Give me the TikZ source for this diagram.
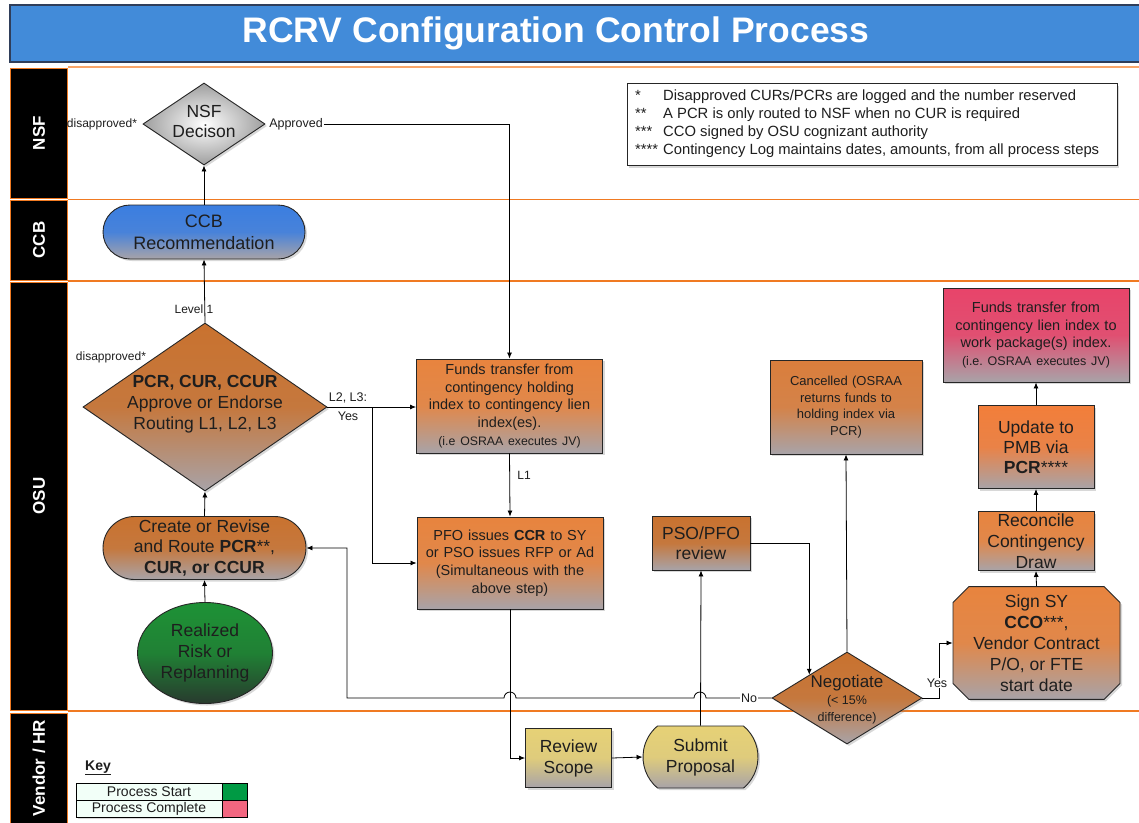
\documentclass[tikz,border=0pt]{standalone}
\usepackage{fontspec}
\setmainfont{Liberation Sans}
\usetikzlibrary{shapes.geometric,shapes.misc,arrows.meta,shadows}
\definecolor{txt}{HTML}{1E1E1E}
\definecolor{titleblue}{HTML}{428BD9}
\definecolor{titleedge}{HTML}{2F3E5A}
\definecolor{laneor}{HTML}{F07A22}
\definecolor{lanelight}{HTML}{F9A66A}
\definecolor{grayb}{HTML}{A8A3A8}
\definecolor{or1}{HTML}{E8843E}
\definecolor{or2}{HTML}{C9722F}
\definecolor{or3}{HTML}{F27E3A}
\definecolor{or4}{HTML}{DA7E3C}
\definecolor{pink1}{HTML}{E8446A}
\definecolor{blue1}{HTML}{3B7EE0}
\definecolor{yel1}{HTML}{E6D176}
\definecolor{grn1}{HTML}{1E9236}
\definecolor{grn2}{HTML}{283A2E}
\definecolor{keygreen}{HTML}{009A44}
\definecolor{keypink}{HTML}{F26680}
\definecolor{keymint}{HTML}{F2FFF8}
\newcommand\fz[2]{\fontsize{#1}{#2}\selectfont}
\frenchspacing
\begin{document}
\begin{tikzpicture}[x=1pt,y=-1pt,
  every node/.style={text=txt},
  shd/.style={drop shadow={shadow xshift=2pt,shadow yshift=-2pt,opacity=0.3}},
  box/.style={draw=black!85, line width=0.9pt, align=center, inner sep=0pt, shd, font=\fz{17.5}{21}},
  grad/.style={top color=#1, bottom color=grayb, middle color=#1!88!grayb},
  obox/.style={box, rectangle, grad=#1},
  pill/.style={box, rounded rectangle, grad=#1},
  dia/.style={box, diamond, grad=#1},
  lbl/.style={font=\fz{12}{15}, inner sep=1pt},
  lane/.style={fill=black, draw=laneor, line width=1pt, text=white, font=\fz{17}{20}\bfseries, rotate=90, inner sep=0pt, minimum height=57pt},
  arr/.style={draw=black, line width=0.8pt, -{Latex[length=6pt,width=5pt]}},
  ln/.style={draw=black, line width=0.8pt},
  keycell/.style={draw=black, line width=0.9pt, inner sep=0pt, minimum height=17pt, font=\fz{14}{16}}
]
\useasboundingbox (0,0) rectangle (1139,822);
\fill[white] (0,0) rectangle (1139,822);

% title
\node[draw=titleedge, line width=1.5pt, fill=titleblue, minimum width=1135pt, minimum height=57pt, inner sep=0pt] (titlebar) at (577.5,33.5) {};
\node[text=white, font=\fz{35.5}{40}\bfseries] (titletext) at (556,33) {RCRV Configuration Control Process};

% lanes
\draw[lanelight, line width=2pt] (68,67) -- (1139,67);
\draw[laneor, line width=1.3pt] (68,199.5) -- (1139,199.5);
\draw[laneor, line width=1.3pt] (68,281) -- (1139,281);
\draw[laneor, line width=1.3pt] (68,711) -- (1139,711);
\node[lane, minimum width=130pt] (hnsf) at (39,133) {NSF};
\node[lane, minimum width=80pt] (hccb) at (39,240) {CCB};
\node[lane, minimum width=428pt] (hosu) at (39,496) {OSU};
\node[lane, minimum width=110pt] (hven) at (39,768) {Vendor / HR};

% legend
\node[draw=black!85, line width=1pt, fill=white, shd, minimum width=490pt, minimum height=82pt, inner sep=0pt] (legend) at (872,124.5) {};
\node[anchor=west, align=left, font=\fz{14.8}{18}, inner sep=0pt] (legendtext) at (635,124) {%
\makebox[28pt][l]{*}Disapproved CURs/PCRs are logged and the number reserved\\
\makebox[28pt][l]{**}A PCR is only routed to NSF when no CUR is required\\
\makebox[28pt][l]{***}CCO signed by OSU cognizant authority\\
\makebox[28pt][l]{****}Contingency Log maintains dates, amounts, from all process steps};

% NSF
\node[box, diamond, inner color=white, outer color=black!38, minimum width=122pt, minimum height=82pt] (nsf) at (204,124) {};
\node[font=\fz{17.5}{20}, align=center] (nsft) at (204,121) {NSF\\Decison};
\node[lbl] (dis1) at (102,124) {disapproved*};
\node[lbl, font=\fz{12.5}{15}] (appr) at (296,124) {Approved};

% CCB
\node[pill=blue1, minimum width=202pt, minimum height=54pt, font=\fz{18}{22}] (ccb) at (204,232) {CCB\\Recommendation};

% OSU
\node[dia=or2, minimum width=244pt, minimum height=168pt] (pcr) at (205,407) {};
\node[font=\fz{17.5}{21}, align=center] (pcrt) at (205,404) {\textbf{PCR, CUR, CCUR}\\Approve or Endorse\\Routing L1, L2, L3};
\node[lbl] (lev1) at (194,309) {Level 1};
\node[lbl] (dis2) at (111,357) {disapproved*};
\node[lbl, align=center, font=\fz{12.5}{19}] (l23) at (348,407) {L2, L3:\\Yes};

\node[pill=or2, minimum width=203pt, minimum height=63pt, font=\fz{17.5}{20.5}] (create) at (204.5,548) {Create or Revise\\and Route \textbf{PCR}**,\\\textbf{CUR, or CCUR}};
\node[box, ellipse, top color=grn1, bottom color=grn2, middle color=grn1!80!grn2, minimum width=135pt, minimum height=101pt] (real) at (205,653) {Realized\\Risk or\\Replanning};

\node[obox=or1, minimum width=186pt, minimum height=94pt, text width=184pt, font=\fz{14.5}{17.7}] (funds) at (509.5,406) {Funds transfer from\\contingency holding\\index to contingency lien\\index(es).\\{\fz{12.3}{17.7}(i.e OSRAA executes JV)}};
\node[lbl] (l1) at (524,475) {L1};
\node[obox=or1, minimum width=186pt, minimum height=92pt, text width=184pt, font=\fz{14.5}{17.7}] (pfo) at (510,563) {PFO issues \textbf{CCR} to SY\\or PSO issues RFP or Ad\\(Simultaneous with the\\above step)};

\node[obox=or2, minimum width=98pt, minimum height=54pt, font=\fz{17.5}{20}] (psopfo) at (701,543) {PSO/PFO\\review};
\node[obox=or4, minimum width=152pt, minimum height=94pt, text width=150pt, font=\fz{13}{16.7}] (cancel) at (846,407) {Cancelled (OSRAA\\returns funds to\\holding index via\\PCR)};

\node[dia=or2, minimum width=150pt, minimum height=92pt] (neg) at (847,698) {};
\node[align=center, font=\fz{12.5}{17}] (negt) at (847,700) {{\fz{17}{17}Negotiate}\\(< 15\%\\difference)};

\node[box, chamfered rectangle, chamfered rectangle xsep=8pt, chamfered rectangle ysep=8pt, grad=or1, minimum width=167pt, minimum height=106pt] (sign) at (1036.5,643) {Sign SY\\\textbf{CCO}***,\\Vendor Contract\\P/O, or FTE\\start date};
\node[obox=or1, minimum width=116pt, minimum height=59pt] (recon) at (1036,541) {Reconcile\\Contingency\\Draw};
\node[obox=or3, minimum width=116pt, minimum height=83pt, font=\fz{17.5}{20}] (update) at (1036,447) {Update to\\PMB via\\\textbf{PCR}****};
\node[obox=pink1, minimum width=186pt, minimum height=94pt, text width=184pt, font=\fz{14.5}{17.7}] (pink) at (1036,335) {Funds transfer from\\contingency lien index to\\work package(s) index.\\{\fz{12.5}{17.7}(i.e. OSRAA executes JV)}};

% Vendor / HR
\node[obox=yel1, minimum width=86pt, minimum height=59pt] (review) at (568.5,758) {Review\\Scope};
\node[box, rounded rectangle, rounded rectangle arc length=100, grad=yel1, minimum width=115pt, minimum height=62pt] (submit) at (700.5,757) {Submit\\Proposal};

% key
\node[font=\fz{14}{16}\bfseries, inner sep=0pt] (key) at (98,768) {\underline{Key}};
\node[keycell, fill=keymint, minimum width=146pt, shd] (k1) at (149,791.5) {Process Start};
\node[keycell, fill=keymint, minimum width=146pt, shd] (k2) at (149,808.5) {Process Complete};
\node[keycell, fill=keygreen, minimum width=25pt] (k1c) at (234.5,791.5) {};
\node[keycell, fill=keypink, minimum width=25pt] (k2c) at (234.5,808.5) {};

% connectors
\draw[arr] (ccb.north) -- (nsf.south);
\draw[arr] (appr.east) -| (funds.north);
\draw[arr] (pcr.north) -- (ccb.south);
\draw[arr] (create.north) -- (pcr.south);
\draw[arr] (real.north) -- (create.south);
\coordinate (br) at (372,407);
\draw[arr] (pcr.east) -- (funds.west |- pcr.east);
\draw[arr] (br) |- (pfo.west);
\draw[arr] (funds.south) -- (pfo.north);
\draw[arr] (pfo.south) |- (review.west);
\draw[arr] (review.east) -- (submit.west);
\draw[arr] (submit.north) -- (psopfo.south);
\draw[arr] (psopfo.east) -| (neg.north west);
\draw[arr] (neg.north) -- (cancel.south);
\draw[arr] (neg.east) -- ++(17,0) |- (sign.west);
\draw[arr] (sign.north) -- (recon.south);
\draw[arr] (recon.north) -- (update.south);
\draw[arr] (update.north) -- (pink.south);
\draw[arr] (neg.west) -- (706,698) arc[start angle=0, end angle=-180, radius=6] -- (516,698) arc[start angle=0, end angle=-180, radius=6] -- (347,698) |- (create.east);
\node[lbl, fill=white, font=\fz{12.5}{15}] (no) at (749,698) {No};
\node[lbl, fill=white, font=\fz{12.5}{15}, inner sep=0.5pt] (yes) at (937,683) {Yes};
\end{tikzpicture}
\end{document}
